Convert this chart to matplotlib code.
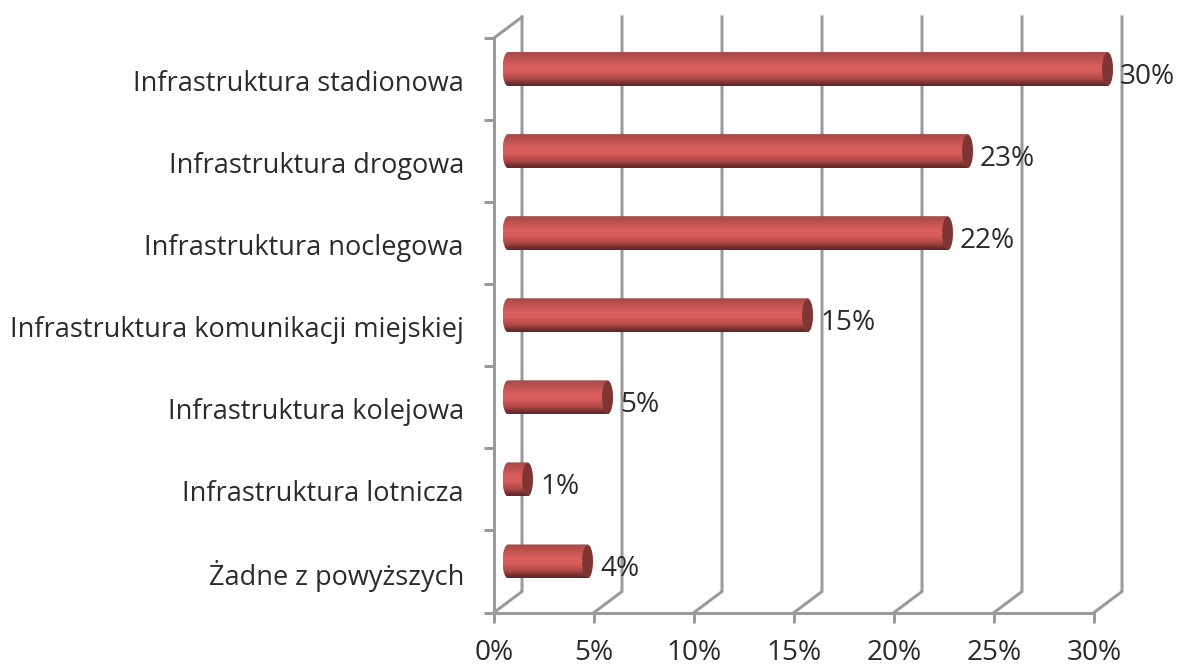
import numpy as np
import matplotlib
matplotlib.use("Agg")
import matplotlib.pyplot as plt
from matplotlib.path import Path
from matplotlib.patches import PathPatch, Ellipse
from matplotlib.colors import LinearSegmentedColormap

categories = ["Infrastruktura stadionowa", "Infrastruktura drogowa", "Infrastruktura noclegowa",
              "Infrastruktura komunikacji miejskiej", "Infrastruktura kolejowa",
              "Infrastruktura lotnicza", "Żadne z powyższych"]
values = [30, 23, 22, 15, 5, 1, 4]
value_labels = ["30%", "23%", "22%", "15%", "5%", "1%", "4%"]
x_ticks = [0, 5, 10, 15, 20, 25, 30]
x_labels = ["0%", "5%", "10%", "15%", "20%", "25%", "30%"]

W, H = 1177, 666
GRID = "#9a9a9a"
TXT = "#2b2b2b"
FONT = "Open Sans"
FS_CAT = 19.5
FS_NUM = 20.2
plt.rcParams["font.family"] = FONT

fig = plt.figure(figsize=(W / 100, H / 100), dpi=100)
ax = fig.add_axes([494 / W, 1 - 612.5 / H, 600 / W, 574.5 / H])
ax.set_xlim(0, 30)
ax.set_ylim(6.5, -0.5)

px_x = 30 / 600
px_y = 7 / 574.5
dx, dy = 28 * px_x, 21 * px_y
lw = 3 * 72 / 100

# Transparent full-figure overlay on the same scale, so the bars may extend past the plot box
ov = fig.add_axes([0, 0, 1, 1], zorder=5)
ov.set_xlim(-494 * px_x, (W - 494) * px_x)
ov.set_ylim(-0.5 + (H - 38) * px_y, -0.5 - 38 * px_y)
ov.axis("off")
ov.patch.set_visible(False)

# walls
for x in x_ticks:
    ax.plot([x, x + dx, x + dx], [6.5, 6.5 - dy, -0.5 - dy], color=GRID, lw=lw,
            clip_on=False, zorder=1, solid_joinstyle="miter")
ax.plot([0, dx], [-0.5, -0.5 - dy], color=GRID, lw=lw, clip_on=False, zorder=1)

cmap = LinearSegmentedColormap.from_list("cyl", [
    (0.0, "#a84a49"), (0.12, "#b44f4e"), (0.42, "#dc5f5d"), (0.6, "#d55b59"),
    (0.8, "#a84745"), (0.93, "#6e2f2e"), (1.0, "#5a2a2a")])
grad = np.linspace(0, 1, 256).reshape(-1, 1)

x_off = 11 * px_x
y_off = -10 * px_y
half_h = 17 * px_y
cap = 5.5 * px_x

for i, v in enumerate(values):
    yc = i + y_off
    x0 = x_off + cap * 0.55
    x1 = 9 * px_x + v + 10 * px_x - cap
    k = 0.5523
    top, bot = yc - half_h, yc + half_h
    verts = [(x0, top), (x1, top),
             (x1 + cap * k, top), (x1 + cap, yc - half_h * k), (x1 + cap, yc),
             (x1 + cap, yc + half_h * k), (x1 + cap * k, bot), (x1, bot),
             (x0, bot),
             (x0 - cap * k, bot), (x0 - cap, yc + half_h * k), (x0 - cap, yc),
             (x0 - cap, yc - half_h * k), (x0 - cap * k, top), (x0, top),
             (x0, top)]
    codes = [Path.MOVETO, Path.LINETO,
             Path.CURVE4, Path.CURVE4, Path.CURVE4,
             Path.CURVE4, Path.CURVE4, Path.CURVE4,
             Path.LINETO,
             Path.CURVE4, Path.CURVE4, Path.CURVE4,
             Path.CURVE4, Path.CURVE4, Path.CURVE4,
             Path.CLOSEPOLY]
    patch = PathPatch(Path(verts, codes), facecolor="none", edgecolor="none",
                      transform=ov.transData)
    ov.add_patch(patch)
    im = ov.imshow(grad, cmap=cmap, aspect="auto", extent=(x0 - cap, x1 + cap, bot, top),
                   zorder=3, interpolation="bilinear")
    im.set_clip_path(patch)
    ov.add_patch(Ellipse((x1, yc), 2 * cap * 0.98, 2 * half_h * 0.96, facecolor="#7e3635",
                         edgecolor="none", zorder=4))
    ov.text(x1 + cap + 7 * px_x, yc + 8 * px_y, value_labels[i], ha="left", va="center",
            fontsize=FS_NUM, color=TXT, zorder=5)

ov.set_xlim(-494 * px_x, (W - 494) * px_x)
ov.set_ylim(-0.5 + (H - 38) * px_y, -0.5 - 38 * px_y)

for s in ("top", "right"):
    ax.spines[s].set_visible(False)
for s in ("left", "bottom"):
    ax.spines[s].set_color(GRID)
    ax.spines[s].set_linewidth(lw)
    ax.spines[s].set_zorder(2)

ax.set_xticks(x_ticks, x_labels)
ax.set_yticks(np.arange(-0.5, 7), [""] * 8)
ax.tick_params(axis="x", length=7, width=lw, color=GRID, labelcolor=TXT, labelsize=FS_NUM, pad=12)
ax.tick_params(axis="y", which="major", length=7, width=lw, color=GRID)

for i, cat in enumerate(categories):
    ax.annotate(cat, xy=(0, i), xytext=(-30 * 0.72, -4.5 * 0.72), textcoords="offset points",
                ha="right", va="center", fontsize=FS_CAT, color=TXT, annotation_clip=False)

fig.savefig("out.png", dpi=100, facecolor="white")
